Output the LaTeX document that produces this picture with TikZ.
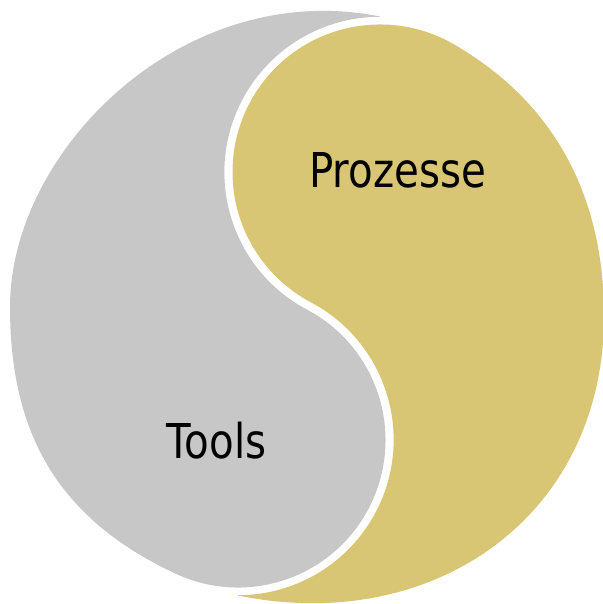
\documentclass[tikz,border=0pt]{standalone}
\usepackage{fontspec}
\newfontfamily\labelfont[FakeStretch=0.84]{DejaVu Sans}
\definecolor{toolgray}{HTML}{C6C7C6}
\definecolor{procgold}{HTML}{D8C675}
\tikzset{
  halfshape/.style={draw=none},
  label text/.style={font=\labelfont\fontsize{24}{28}\selectfont, text=black, inner sep=0pt, anchor=base}
}
\begin{document}
\begin{tikzpicture}[x=0.5pt, y=-0.5pt]
  % canvas, one unit = one pixel, y pointing down
  \fill[white] (0,0) rectangle (602,604);
  \useasboundingbox (0,0) rectangle (602,604);

  % end points of the rims
  \coordinate (greytip)  at (380,16.5);
  \coordinate (greyleft) at (10,307);
  \coordinate (greyjoin) at (175.66,573.68);
  \coordinate (goldtip)  at (238,595.5);
  \coordinate (goldright) at (604,316);
  \coordinate (goldjoin) at (453.75,44.26);

  % grey half: outer rim, lower bulb, then the hollow of the upper bulb
  \fill[toolgray, halfshape]
    (greytip)
    .. controls (184,-22.7) and (10,150) .. (greyleft)
    .. controls (10,430) and (55,517.5) .. (greyjoin)
    arc[start angle=115, end angle=-62.08, radius=147.5]
    arc[start angle=117.92, end angle=270, radius=155.5]
    -- cycle;

  % gold half: outer rim, upper bulb, then the hollow of the lower bulb
  \fill[procgold, halfshape]
    (goldtip)
    .. controls (434,635.5) and (604,516) .. (goldright)
    .. controls (604,198) and (556,103.3) .. (goldjoin)
    arc[start angle=-60, end angle=-242.08, radius=147.5]
    arc[start angle=-62.08, end angle=90, radius=155.5]
    -- cycle;

  \node[label text] (prozesse) at (397.5,188) {Prozesse};
  \node[label text] (tools) at (216.5,458) {Tools};
\end{tikzpicture}
\end{document}
